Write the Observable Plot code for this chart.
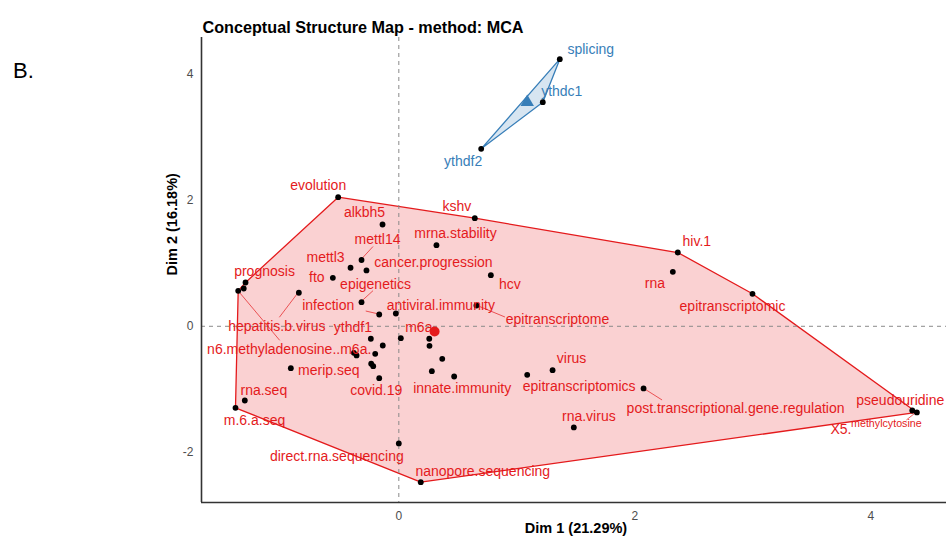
<!DOCTYPE html>
<html><head><meta charset="utf-8">
<script src="https://cdn.jsdelivr.net/npm/d3@7"></script>
<script src="https://cdn.jsdelivr.net/npm/@observablehq/plot@0.6"></script>
<style>body{margin:0;background:#fff}</style>
</head><body><div id="chart"></div>
<script>
// ---- data ----
const labels = [
  "evolution","alkbh5","kshv","mrna.stability","mettl14","mettl3","cancer.progression","fto","hcv","prognosis",
  "","n6.methyladenosine..m6a.","hepatitis.b.virus","epigenetics","infection","antiviral.immunity","epitranscriptome","ythdf1","m6a","",
  "","","","","","","","covid.19","merip.seq","",
  "","innate.immunity","rna.seq","m.6.a.seq","direct.rna.sequencing","nanopore.sequencing","hiv.1","rna","epitranscriptomic","virus",
  "epitranscriptomics","post.transcriptional.gene.regulation","rna.virus","pseudouridine","X5.methylcytosine",
  "splicing","ythdc1","ythdf2"
];
const dim1 = [
  -0.514,-0.138,0.644,0.319,-0.316,-0.409,-0.274,-0.559,0.780,-1.299,
  -1.314,-1.361,-0.847,-0.316,-0.166,-0.025,0.658,-0.237,0.017,0.258,
  0.260,-0.136,-0.381,-0.358,-0.200,-0.234,-0.217,-0.166,-0.915,0.368,
  0.280,0.469,-1.305,-1.384,0.000,0.186,2.364,2.322,2.997,1.303,
  1.088,2.074,1.483,4.351,4.390,
  1.364,1.220,0.698
];
const dim2 = [
  2.049,1.616,1.716,1.287,1.052,0.929,0.886,0.770,0.811,0.695,
  0.600,0.563,0.532,0.383,0.187,0.203,0.330,-0.198,-0.189,-0.198,
  -0.310,-0.305,-0.421,-0.463,-0.437,-0.595,-0.633,-0.824,-0.665,-0.516,
  -0.713,-0.797,-1.178,-1.294,-1.860,-2.475,1.171,0.865,0.516,-0.697,
  -0.770,-0.987,-1.606,-1.337,-1.368,
  4.240,3.557,2.817
];
const cluster = [
  "1","1","1","1","1","1","1","1","1","1",
  "1","1","1","1","1","1","1","1","1","1",
  "1","1","1","1","1","1","1","1","1","1",
  "1","1","1","1","1","1","1","1","1","1",
  "1","1","1","1","1",
  "2","2","2"
];
const centroidCluster = ["1","2"];
const centroidX = [0.303, 1.088];
const centroidY = [-0.082, 3.557];
const titleText = "Conceptual Structure Map - method: MCA";
const panelTag = "B.";
const xTitle = "Dim 1 (21.29%)";
const yTitle = "Dim 2 (16.18%)";
const xTicks = [0, 2, 4];
const yTicks = [-2, 0, 2, 4];

// ---- layout / style ----
const colors = {"1": "#E41A1C", "2": "#377EB8"};
const xDomain = [-1.672, 4.641], yDomain = [-2.797, 4.584];
const FONT = "Liberation Sans, Arial, Helvetica, sans-serif";
const nudge = {
  "evolution":[-20,-12], "alkbh5":[-18,-12], "kshv":[-18,-12], "mrna.stability":[19,-12],
  "mettl14":[16,-20], "mettl3":[-25,-10], "cancer.progression":[67,-8], "fto":[-16,0],
  "hcv":[19,9], "prognosis":[19,-11], "n6.methyladenosine..m6a.":[51,59], "hepatitis.b.virus":[-22,34],
  "epigenetics":[14,-18], "infection":[-51,-9], "antiviral.immunity":[45,-8], "epitranscriptome":[81,14],
  "ythdf1":[-18,-11], "m6a":[18,-11], "covid.19":[-3,12], "merip.seq":[38,2],
  "innate.immunity":[8,12], "rna.seq":[19,-10], "m.6.a.seq":[19,13], "direct.rna.sequencing":[-62,13],
  "nanopore.sequencing":[62,-11], "hiv.1":[19,-11], "rna":[-18,12], "epitranscriptomic":[-20,13],
  "virus":[19,-12], "epitranscriptomics":[52,12], "post.transcriptional.gene.regulation":[92,20],
  "rna.virus":[15,-11], "pseudouridine":[-12,-10],
  "splicing":[31,-10], "ythdc1":[19,-11], "ythdf2":[-18,13]
};
const segEnds = {
  "mettl14":[12,-13], "epigenetics":[12,-11], "infection":[-13,-3], "epitranscriptome":[29,12],
  "hepatitis.b.virus":[-19,25], "n6.methyladenosine..m6a.":[42,50],
  "post.transcriptional.gene.regulation":[19,12], "X5.methylcytosine":[-10,8]
};

const points = labels.map((l, i) => ({label: l, x: dim1[i], y: dim2[i], cluster: cluster[i]}));
const centroids = centroidCluster.map((c, i) => ({cluster: c, x: centroidX[i], y: centroidY[i]}));

const labelMarks = [];
for (const p of points) {
  if (!p.label) continue;
  if (p.label === "X5.methylcytosine") {
    labelMarks.push(Plot.text([p], {x: "x", y: "y", text: d => d.label.slice(0, 3), dx: -76, dy: 17,
      fill: colors[p.cluster], fontSize: 14}));
    labelMarks.push(Plot.text([p], {x: "x", y: "y", text: d => d.label.slice(3), dx: -30.5, dy: 11,
      fill: colors[p.cluster], fontSize: 10.7}));
    continue;
  }
  const [dx, dy] = nudge[p.label] || [0, -12];
  labelMarks.push(Plot.text([p], {x: "x", y: "y", text: "label", dx, dy, fill: colors[p.cluster], fontSize: 14}));
}

const plot = Plot.plot({
  width: 946, height: 543,
  marginLeft: 201, marginRight: 0, marginTop: 37, marginBottom: 41,
  style: {fontFamily: FONT, background: "white", color: "#4d4d4d", fontSize: "12px"},
  x: {domain: xDomain, ticks: xTicks, tickSize: 0, tickPadding: 9, label: null, tickFormat: d => String(d)},
  y: {domain: yDomain, ticks: yTicks, tickSize: 0, tickPadding: 8, label: null, tickFormat: d => String(d)},
  marks: [
    Plot.hull(points, {x: "x", y: "y", z: "cluster", fill: d => colors[d.cluster], fillOpacity: 0.2,
      stroke: d => colors[d.cluster], strokeWidth: 1.3}),
    Plot.ruleX([0], {stroke: "#8a8a8a", strokeDasharray: "4,4", strokeWidth: 1}),
    Plot.ruleY([0], {stroke: "#8a8a8a", strokeDasharray: "4,4", strokeWidth: 1}),
    Plot.ruleX([xDomain[0]], {stroke: "#333", strokeWidth: 1.6}),
    Plot.ruleY([yDomain[0]], {stroke: "#333", strokeWidth: 1.6}),
    Plot.dot(points, {x: "x", y: "y", r: 2.9, fill: "black"}),
    ...labelMarks,
    Plot.dot(centroids, {x: "x", y: "y", r: 5, fill: d => colors[d.cluster],
      symbol: d => d.cluster === "1" ? "circle" : "triangle"}),
    Plot.text([titleText], {frameAnchor: "top-left", text: d => d, textAnchor: "start", dx: 1, dy: -15.6,
      fontSize: 16.2, fontWeight: "bold", fill: "black"}),
    Plot.text([panelTag], {frameAnchor: "top-left", text: d => d, textAnchor: "middle", dx: -178, dy: 24.6,
      fontSize: 22, fill: "black"}),
    Plot.text([xTitle], {frameAnchor: "bottom", text: d => d, dx: 2, dy: 30, fontSize: 14.5, fontWeight: "bold", fill: "black"}),
    Plot.text([yTitle], {frameAnchor: "left", text: d => d, rotate: -90, dx: -29.3, dy: 5.5, fontSize: 14.5, fontWeight: "bold", fill: "black"})
  ]
});

// label connector segments, through the plot's own scales
const xs = plot.scale("x"), ys = plot.scale("y");
const sx = d3.scaleLinear(xs.domain, xs.range), sy = d3.scaleLinear(ys.domain, ys.range);
const svg = d3.select(plot);
const g = svg.insert("g", '[aria-label="dot"]');
for (const p of points) {
  const e = segEnds[p.label];
  if (!e) continue;
  const px = sx(p.x), py = sy(p.y);
  g.append("line").attr("x1", px).attr("y1", py).attr("x2", px + e[0]).attr("y2", py + e[1])
    .attr("stroke", colors[p.cluster]).attr("stroke-width", 0.7);
}
document.getElementById("chart").appendChild(plot);
</script>
</body></html>
